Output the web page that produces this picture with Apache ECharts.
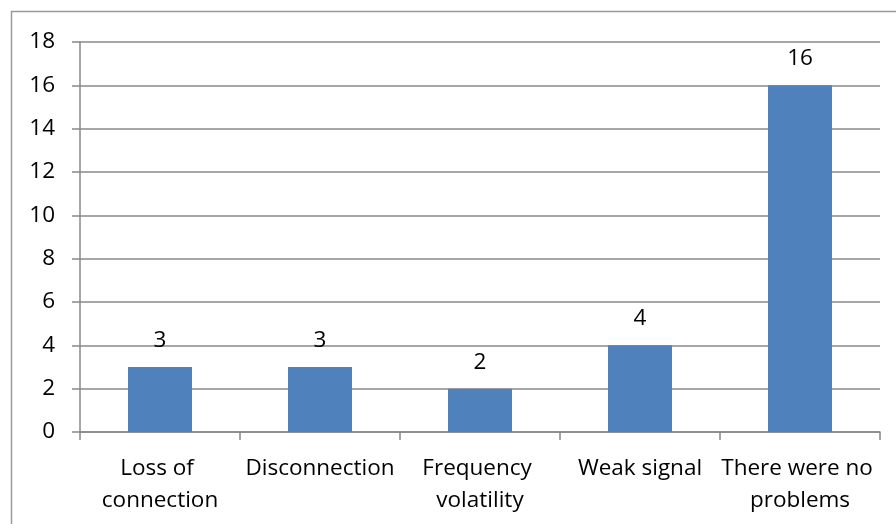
<!DOCTYPE html>
<html>
<head>
<meta charset="utf-8">
<script src="https://cdn.jsdelivr.net/npm/echarts@6/dist/echarts.min.js"></script>
<style>
  html, body { margin: 0; padding: 0; background: #fff; }
  #chart { width: 896px; height: 524px; }
</style>
</head>
<body>
<div id="chart"></div>
<script>
// Reported connection problems, one bar per category
const categories = ['Loss of connection', 'Disconnection', 'Frequency volatility', 'Weak signal', 'There were no problems'];
const counts = [3, 3, 2, 4, 16];
const yTicks = { min: 0, max: 18, interval: 2 };

const gray = '#888888';
const font = 'Open Sans';
const size = 22.5;

const chart = echarts.init(document.getElementById('chart'));
chart.setOption({
  animation: false,
  backgroundColor: '#fff',
  textStyle: { fontFamily: font },
  graphic: [{
    type: 'rect',
    shape: { x: 11.5, y: 11.5, width: 1000, height: 1000 },
    style: { fill: 'none', stroke: '#9a9a9a', lineWidth: 1.5 },
    silent: true
  }],
  grid: { left: 80, right: 16, top: 42, bottom: 92 },
  xAxis: {
    type: 'category',
    data: categories,
    axisLine: { lineStyle: { color: gray, width: 1.5 } },
    axisTick: { show: true, length: 8, lineStyle: { color: gray, width: 1.5 } },
    axisLabel: {
      color: '#000', fontSize: size, fontFamily: font,
      margin: 21, lineHeight: 32, width: 168, overflow: 'break', interval: 0
    }
  },
  yAxis: {
    type: 'value',
    min: yTicks.min, max: yTicks.max, interval: yTicks.interval,
    axisLine: { show: true, lineStyle: { color: gray, width: 1.5 } },
    axisTick: { show: true, length: 8, lineStyle: { color: gray, width: 1.5 } },
    axisLabel: { color: '#000', fontSize: size, fontFamily: font, margin: 25 },
    splitLine: { lineStyle: { color: gray, width: 1.5 } }
  },
  series: [{
    type: 'bar',
    data: counts,
    barWidth: '40%',
    itemStyle: { color: '#4f81bd' },
    label: { show: true, position: 'top', distance: 15, color: '#000', fontSize: size, fontFamily: font }
  }]
});
</script>
</body>
</html>
